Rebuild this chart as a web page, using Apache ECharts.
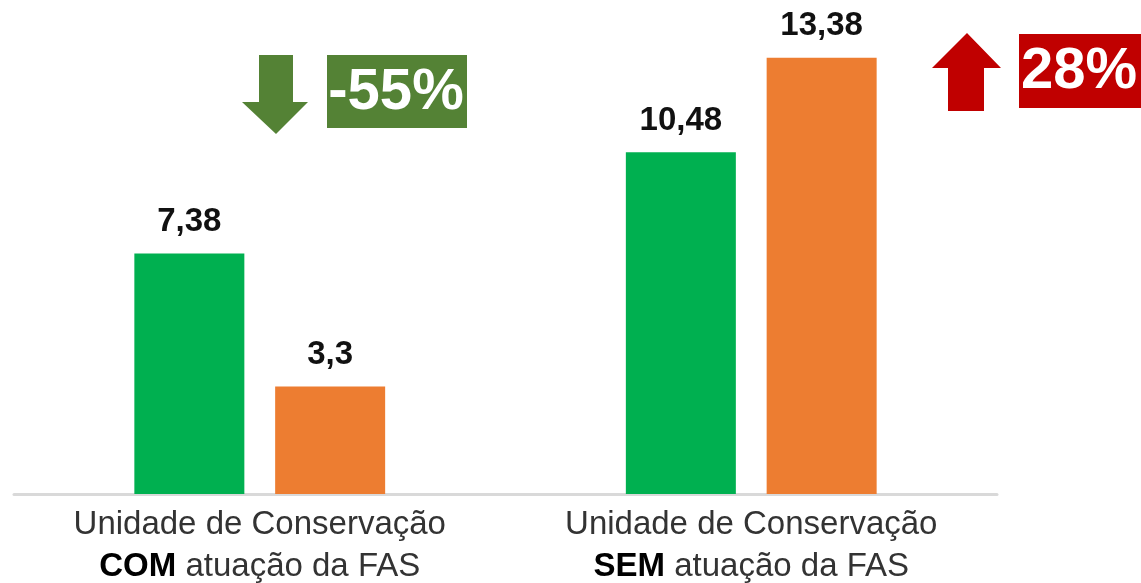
<!DOCTYPE html>
<html>
<head>
<meta charset="utf-8">
<script src="https://cdn.jsdelivr.net/npm/echarts@6/dist/echarts.min.js"></script>
<style>
html,body{margin:0;padding:0;background:#fff;}
#chart{width:1141px;height:583px;}
</style>
</head>
<body>
<div id="chart"></div>
<script>
// ---- data ----
const categories = ['COM', 'SEM'];
const labelLine1 = 'Unidade de Conservação';
const labelLine2Rest = 'atuação da FAS';
const greenValues = [7.38, 10.48];
const orangeValues = [3.3, 13.38];
const changeLabels = ['-55%', '28%'];

const FONT = '"Liberation Sans", Arial, sans-serif';
const fmt = v => String(v).replace('.', ',');

const chart = echarts.init(document.getElementById('chart'));

const arrowGreen = '#548235';
const arrowRed = '#C00000';

chart.setOption({
  animation: false,
  backgroundColor: '#ffffff',
  grid: { left: 14, right: 144, top: 5, bottom: 89, containLabel: false, outerBoundsMode: 'none' },
  xAxis: {
    type: 'category',
    data: categories,
    axisTick: { show: false },
    axisLine: { lineStyle: { color: '#d9d9d9', width: 3 } },
    axisLabel: {
      margin: 10,
      interval: 0,
      formatter: v => labelLine1 + '\n{b|' + v + '} ' + labelLine2Rest,
      fontFamily: FONT,
      fontSize: 33,
      lineHeight: 42,
      color: '#333333',
      rich: {
        b: { fontFamily: FONT, fontSize: 33, lineHeight: 42, fontWeight: 'bold', color: '#000' }
      }
    }
  },
  yAxis: { type: 'value', min: 0, max: 15, show: false, splitLine: { show: false } },
  series: [
    {
      type: 'bar',
      data: greenValues,
      barWidth: 110,
      barGap: '28%',
      itemStyle: { color: '#00B050' },
      label: {
        show: true, position: 'top', distance: 15,
        formatter: p => fmt(p.value),
        fontFamily: FONT, fontSize: 33, fontWeight: 'bold', color: '#111'
      }
    },
    {
      type: 'bar',
      data: orangeValues,
      barWidth: 110,
      itemStyle: { color: '#ED7D31' },
      label: {
        show: true, position: 'top', distance: 15,
        formatter: p => fmt(p.value),
        fontFamily: FONT, fontSize: 33, fontWeight: 'bold', color: '#111'
      }
    }
  ],
  graphic: [
    // down arrow (green)
    { type: 'polygon', shape: { points: [[259,55],[293,55],[293,102],[308,102],[276,134],[242,102],[259,102]] }, style: { fill: arrowGreen } },
    { type: 'rect', shape: { x: 327, y: 55, width: 140, height: 73 }, style: { fill: arrowGreen } },
    { type: 'text', x: 396, y: 93, style: { text: changeLabels[0], fill: '#fff', font: 'bold 58px ' + FONT, align: 'center', verticalAlign: 'middle' } },
    // up arrow (red)
    { type: 'polygon', shape: { points: [[967,33],[1001,68],[984,68],[984,111],[948,111],[948,68],[932,68]] }, style: { fill: arrowRed } },
    { type: 'rect', shape: { x: 1019, y: 34, width: 140, height: 74 }, style: { fill: arrowRed } },
    { type: 'text', x: 1021, y: 72, style: { text: changeLabels[1], fill: '#fff', font: 'bold 58px ' + FONT, align: 'left', verticalAlign: 'middle' } }
  ]
});
</script>
</body>
</html>
